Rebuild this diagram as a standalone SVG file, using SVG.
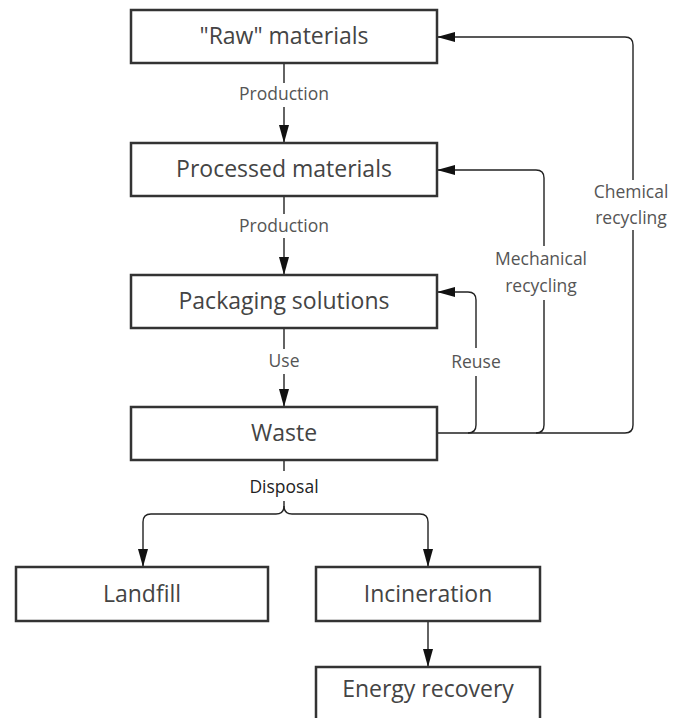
<svg xmlns="http://www.w3.org/2000/svg" width="686" height="718" viewBox="0 0 686 718">
<style>
.box{fill:#fff;stroke:#333;stroke-width:2.5}
.nt{font-family:"Open Sans","Liberation Sans",sans-serif;font-size:23px;fill:#444;text-anchor:middle}
.el{font-family:"Open Sans","Liberation Sans",sans-serif;font-size:17.5px;fill:#555;text-anchor:middle}
.ln{fill:none;stroke:#222;stroke-width:1.4}
.bg{fill:#fff}
</style>
<defs>
<marker id="ah" markerUnits="userSpaceOnUse" markerWidth="18" markerHeight="10" refX="18" refY="5" orient="auto">
<path d="M0,0 L18,5 L0,10 Z" fill="#111"/>
</marker>
</defs>
<rect width="686" height="718" fill="#fff"/>
<g id="connectors">
<path class="ln" d="M284 63 V143" marker-end="url(#ah)"/>
<path class="ln" d="M284 196 V275" marker-end="url(#ah)"/>
<path class="ln" d="M284 328 V407" marker-end="url(#ah)"/>
<path class="ln" d="M284 460 V506"/>
<path class="ln" d="M284 506 Q284 514 276 514 H151 Q143 514 143 522 V567" marker-end="url(#ah)"/>
<path class="ln" d="M284 506 Q284 514 292 514 H420 Q428 514 428 522 V567" marker-end="url(#ah)"/>
<path class="ln" d="M428 621 V667" marker-end="url(#ah)"/>
<path class="ln" d="M437 433 H625 Q633 433 633 425 V45 Q633 37 625 37 H437" marker-end="url(#ah)"/>
<path class="ln" d="M536 433 Q544 433 544 425 V178 Q544 170 536 170 H437" marker-end="url(#ah)"/>
<path class="ln" d="M468 433 Q476 433 476 425 V300 Q476 292 468 292 H437" marker-end="url(#ah)"/>
<rect class="bg" x="230" y="83" width="108" height="24"/>
<text class="el" x="284" y="100">Production</text>
<rect class="bg" x="230" y="214" width="108" height="24"/>
<text class="el" x="284" y="232">Production</text>
<rect class="bg" x="262" y="349" width="44" height="25"/>
<text class="el" x="284" y="367">Use</text>
<rect class="bg" x="242" y="471" width="84" height="30"/>
<text class="el" x="284" y="493" style="fill:#222">Disposal</text>
<rect class="bg" x="450" y="348" width="52" height="28"/>
<text class="el" x="476" y="368">Reuse</text>
<rect class="bg" x="490" y="246" width="104" height="54"/>
<text class="el" x="541" y="265">Mechanical</text>
<text class="el" x="541" y="292">recycling</text>
<rect class="bg" x="588" y="180" width="86" height="50"/>
<text class="el" x="631" y="198">Chemical</text>
<text class="el" x="631" y="224">recycling</text>
</g>
<g id="raw"><rect class="box" x="131" y="10" width="306" height="53"/><text class="nt" x="284" y="44">"Raw" materials</text></g>
<g id="processed"><rect class="box" x="131" y="143" width="306" height="53"/><text class="nt" x="284" y="177">Processed materials</text></g>
<g id="packaging"><rect class="box" x="131" y="275" width="306" height="53"/><text class="nt" x="284" y="309">Packaging solutions</text></g>
<g id="waste"><rect class="box" x="131" y="407" width="306" height="53"/><text class="nt" x="284" y="441">Waste</text></g>
<g id="landfill"><rect class="box" x="16" y="567" width="252" height="54"/><text class="nt" x="142" y="602">Landfill</text></g>
<g id="incineration"><rect class="box" x="316" y="567" width="224" height="54"/><text class="nt" x="428" y="602">Incineration</text></g>
<g id="energy"><rect class="box" x="316" y="667" width="224" height="60"/><text class="nt" x="428" y="697">Energy recovery</text></g>
</svg>
